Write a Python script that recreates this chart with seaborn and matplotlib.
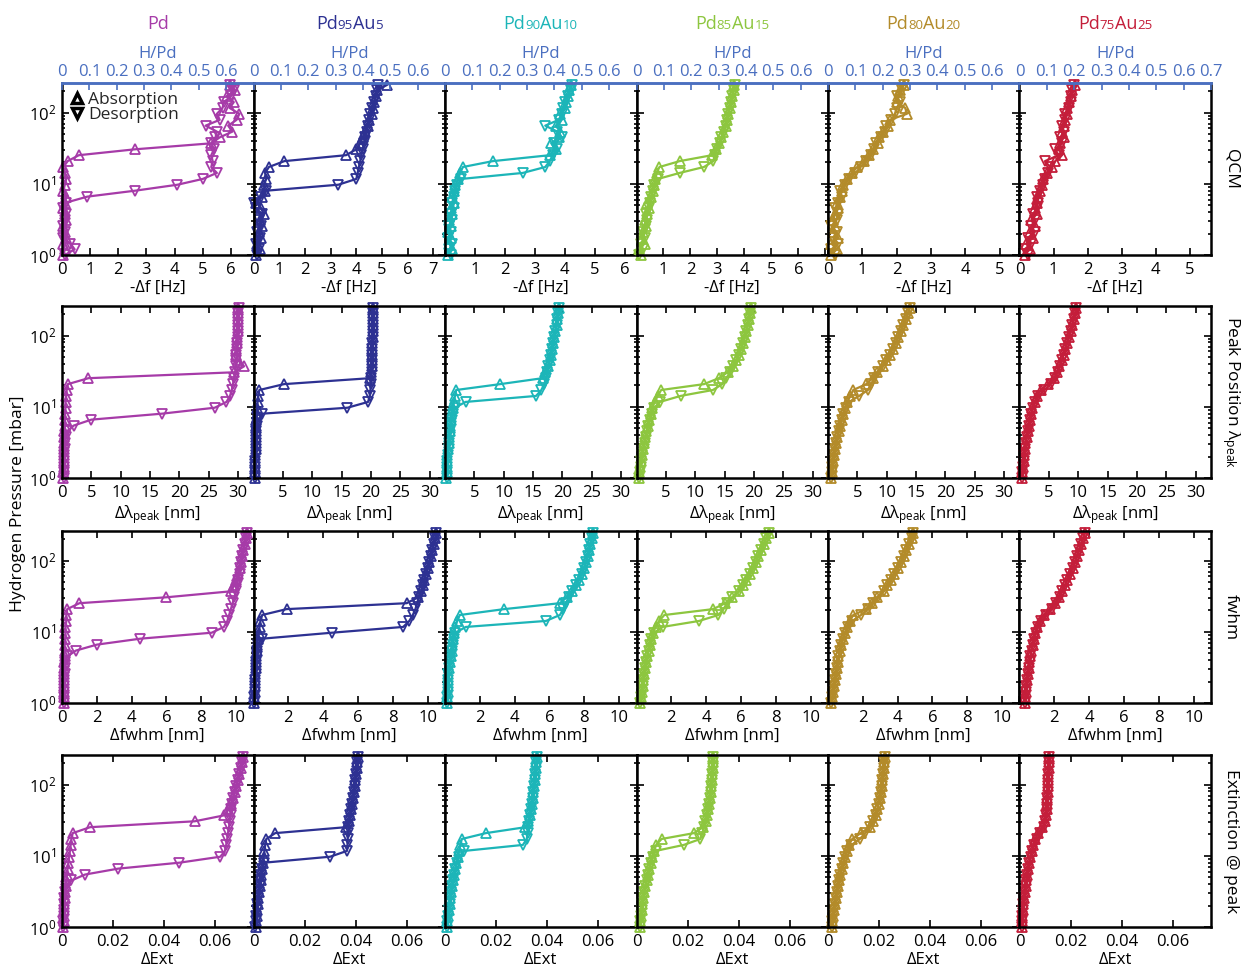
import re
import numpy as np
import matplotlib
matplotlib.use("Agg")
import matplotlib.pyplot as plt
import matplotlib.transforms as mtransforms
from matplotlib.lines import Line2D
from matplotlib.ticker import LogLocator, NullFormatter, NullLocator
from matplotlib.offsetbox import TextArea, HPacker, AnnotationBbox
import seaborn as sns

# ---------------------------------------------------------------- data
# hydrogen pressure steps [mbar], ascending (desorption runs through them in reverse)
PRESSURE = [1.0, 1.2, 1.45, 1.75, 2.1, 2.55, 3.1, 3.75, 4.5, 5.45,
            6.6, 8.0, 9.7, 11.7, 14.2, 17.2, 20.8, 25.2, 30.5, 37.0,
            44.8, 54.0, 65.5, 79.0, 96.0, 116.0, 140.0, 170.0, 205.0, 245.0]

ALLOYS = ["Pd", "Pd95Au5", "Pd90Au10", "Pd85Au15", "Pd80Au20", "Pd75Au25"]
COLORS = ["#A63BA8", "#2D3192", "#1CB5B8", "#8DC63F", "#B38B2A", "#C41E3A"]

# QCM frequency shift -Δf [Hz]
qcm_pd_abs = [0.05, 0.1, 0.05, 0.15, 0.1, 0.05, 0.15, 0.1, 0.05, 0.1,
              0.15, 0.05, 0.1, 0.15, 0.1, 0.05, 0.2, 0.6, 2.6, 5.3,
              5.6, 6.05, 5.9, 6.2, 6.3, 5.95, 6.1, 5.85, 6.15, 5.95]
qcm_pd_des = [0.1, 0.45, 0.3, 0.05, 0.1, 0.05, 0.1, 0.15, 0.05, 0.15,
              0.9, 2.6, 4.1, 5.0, 5.5, 5.3, 5.35, 5.3, 5.4, 5.3,
              5.45, 5.5, 5.1, 5.6, 5.5, 5.7, 5.75, 6.0, 6.1, 5.95]
qcm_pd95_abs = [0.1, 0.25, 0.15, 0.3, 0.2, 0.35, 0.25, 0.4, 0.3, 0.1,
                0.35, 0.45, 0.4, 0.5, 0.45, 0.6, 1.2, 3.6, 4.0, 4.15,
                4.25, 4.35, 4.45, 4.5, 4.6, 4.65, 4.7, 4.75, 4.8, 5.2]
qcm_pd95_des = [0.15, 0.2, 0.1, 0.25, 0.15, 0.3, 0.2, 0.35, 0.1, 0.0,
                0.3, 0.5, 3.3, 4.0, 4.05, 4.1, 4.15, 4.2, 4.25, 4.3,
                4.35, 4.4, 4.45, 4.5, 4.55, 4.6, 4.7, 4.75, 4.8, 4.85]
qcm_pd90_abs = [0.1, 0.25, 0.15, 0.2, 0.1, 0.2, 0.15, 0.25, 0.2, 0.3,
                0.25, 0.3, 0.35, 0.45, 0.5, 0.6, 1.6, 3.5, 3.7, 3.55,
                3.8, 3.85, 3.7, 3.9, 3.85, 4.0, 4.05, 4.1, 4.15, 4.2]
qcm_pd90_des = [0.2, 0.15, 0.25, 0.1, 0.2, 0.15, 0.25, 0.2, 0.3, 0.25,
                0.3, 0.35, 0.4, 0.55, 2.6, 3.35, 3.5, 3.6, 3.75, 3.65,
                3.9, 3.75, 3.35, 3.8, 3.9, 3.95, 4.0, 4.1, 4.2, 4.25]
qcm_pd85_abs = [0.15, 0.1, 0.3, 0.2, 0.25, 0.35, 0.3, 0.4, 0.45, 0.4,
                0.55, 0.6, 0.65, 0.7, 0.75, 0.85, 1.6, 2.8, 2.95, 3.05,
                3.15, 3.2, 3.3, 3.35, 3.4, 3.45, 3.5, 3.55, 3.6, 3.63]
qcm_pd85_des = [0.1, 0.25, 0.15, 0.3, 0.25, 0.35, 0.4, 0.35, 0.45, 0.5,
                0.55, 0.6, 0.65, 0.8, 1.6, 2.5, 2.85, 2.9, 3.0, 3.1,
                3.15, 3.25, 3.3, 3.35, 3.4, 3.45, 3.5, 3.55, 3.6, 3.65]
qcm_pd80_abs = [0.1, 0.25, 0.1, 0.3, 0.15, 0.2, 0.15, 0.2, 0.3, 0.25,
                0.35, 0.4, 0.45, 0.55, 0.7, 0.85, 1.05, 1.2, 1.3, 1.45,
                1.5, 1.6, 1.75, 1.8, 2.3, 2.25, 2.0, 2.05, 2.1, 2.2]
qcm_pd80_des = [0.2, 0.1, 0.3, 0.15, 0.25, 0.1, 0.25, 0.3, 0.2, 0.3,
                0.4, 0.35, 0.5, 0.6, 0.8, 0.95, 1.1, 1.25, 1.35, 1.4,
                1.55, 1.65, 1.7, 1.85, 1.95, 2.0, 2.1, 2.0, 2.15, 2.2]
qcm_pd75_abs = [0.15, 0.3, 0.2, 0.4, 0.3, 0.45, 0.35, 0.5, 0.45, 0.5,
                0.55, 0.6, 0.65, 0.7, 0.8, 0.95, 1.05, 1.25, 1.15, 1.2,
                1.3, 1.25, 1.3, 1.35, 1.4, 1.4, 1.45, 1.5, 1.55, 1.62]
qcm_pd75_des = [0.25, 0.15, 0.35, 0.25, 0.45, 0.35, 0.45, 0.4, 0.5, 0.55,
                0.5, 0.6, 0.7, 0.75, 0.85, 0.9, 0.75, 1.15, 1.05, 1.25,
                1.2, 1.3, 1.25, 1.35, 1.35, 1.45, 1.5, 1.5, 1.55, 1.6]

# plasmon peak position shift Δλpeak [nm]
peak_pd_abs = [0.2, 0.2, 0.3, 0.3, 0.3, 0.3, 0.4, 0.4, 0.4, 0.5,
               0.5, 0.5, 0.6, 0.6, 0.7, 0.8, 1.0, 4.5, 29.3, 31.0,
               30.0, 29.6, 29.7, 29.8, 29.8, 29.9, 29.9, 30.0, 30.0, 30.0]
peak_pd_des = [0.3, 0.3, 0.3, 0.4, 0.4, 0.5, 0.5, 0.6, 0.8, 2.0,
               5.0, 17.0, 26.0, 28.0, 28.6, 28.9, 29.1, 29.3, 29.5, 29.6,
               29.7, 29.7, 29.8, 29.8, 29.9, 29.9, 30.0, 30.0, 30.0, 30.1]
peak_pd95_abs = [0.3, 0.3, 0.3, 0.3, 0.3, 0.4, 0.4, 0.4, 0.4, 0.5,
                 0.5, 0.6, 0.6, 0.7, 0.8, 1.0, 5.2, 19.8, 20.0, 20.1,
                 20.1, 20.2, 20.2, 20.2, 20.3, 20.3, 20.3, 20.3, 20.3, 20.3]
peak_pd95_des = [0.3, 0.3, 0.3, 0.3, 0.4, 0.4, 0.4, 0.5, 0.5, 0.6,
                 0.8, 1.5, 16.0, 19.5, 19.8, 19.9, 20.0, 20.0, 20.1, 20.1,
                 20.2, 20.2, 20.2, 20.2, 20.3, 20.3, 20.3, 20.3, 20.3, 20.3]
peak_pd90_abs = [0.2, 0.3, 0.3, 0.4, 0.4, 0.5, 0.6, 0.7, 0.8, 0.9,
                 1.0, 1.1, 1.3, 1.5, 1.7, 1.9, 9.4, 16.6, 17.0, 17.5,
                 17.8, 18.0, 18.2, 18.4, 18.6, 18.8, 19.0, 19.1, 19.3, 19.4]
peak_pd90_des = [0.3, 0.3, 0.4, 0.4, 0.5, 0.6, 0.7, 0.8, 0.9, 1.0,
                 1.2, 1.4, 1.7, 3.5, 15.5, 16.4, 16.9, 17.2, 17.4, 17.6,
                 17.8, 18.0, 18.2, 18.4, 18.6, 18.8, 19.0, 19.1, 19.3, 19.4]
peak_pd85_abs = [0.4, 0.5, 0.6, 0.8, 0.9, 1.1, 1.3, 1.5, 1.7, 1.9,
                 2.1, 2.4, 2.7, 3.1, 3.6, 4.2, 11.5, 14.0, 15.5, 16.4,
                 17.0, 17.4, 17.8, 18.1, 18.4, 18.7, 18.9, 19.1, 19.3, 19.5]
peak_pd85_des = [0.5, 0.6, 0.7, 0.8, 1.0, 1.2, 1.4, 1.6, 1.8, 2.0,
                 2.3, 2.6, 3.0, 4.0, 7.5, 13.0, 14.6, 15.3, 15.9, 16.5,
                 17.0, 17.4, 17.8, 18.1, 18.4, 18.7, 18.9, 19.1, 19.3, 19.5]
peak_pd80_abs = [0.5, 0.6, 0.7, 0.9, 1.0, 1.2, 1.4, 1.6, 1.8, 2.1,
                 2.3, 2.6, 2.9, 3.3, 3.8, 4.3, 6.5, 7.6, 8.3, 9.3,
                 9.9, 10.5, 11.0, 11.5, 12.0, 12.4, 12.8, 13.2, 13.6, 13.9]
peak_pd80_des = [0.5, 0.6, 0.7, 0.8, 1.0, 1.2, 1.4, 1.6, 1.8, 2.0,
                 2.3, 2.6, 3.0, 3.6, 5.3, 6.8, 7.3, 7.9, 8.5, 9.3,
                 9.9, 10.5, 11.0, 11.5, 12.0, 12.4, 12.8, 13.2, 13.6, 13.9]
peak_pd75_abs = [0.4, 0.5, 0.6, 0.7, 0.8, 0.9, 1.0, 1.2, 1.4, 1.6,
                 1.8, 2.0, 2.2, 2.6, 3.0, 3.6, 4.8, 5.9, 6.4, 6.8,
                 7.2, 7.5, 7.8, 8.1, 8.4, 8.7, 9.0, 9.2, 9.5, 9.7]
peak_pd75_des = [0.4, 0.5, 0.6, 0.7, 0.8, 0.9, 1.1, 1.2, 1.4, 1.6,
                 1.8, 2.0, 2.3, 2.7, 3.2, 4.2, 5.3, 6.0, 6.5, 6.9,
                 7.2, 7.5, 7.8, 8.1, 8.4, 8.7, 9.0, 9.2, 9.5, 9.7]

# peak width change Δfwhm [nm]
fwhm_pd_abs = [0.1, 0.1, 0.1, 0.1, 0.1, 0.1, 0.1, 0.1, 0.15, 0.15,
               0.15, 0.2, 0.2, 0.2, 0.25, 0.25, 0.3, 1.0, 6.0, 9.7,
               9.9, 10.0, 10.1, 10.2, 10.3, 10.35, 10.4, 10.5, 10.55, 10.6]
fwhm_pd_des = [0.1, 0.1, 0.1, 0.1, 0.1, 0.15, 0.15, 0.2, 0.3, 0.8,
               2.0, 4.5, 8.6, 9.3, 9.5, 9.6, 9.7, 9.8, 9.9, 10.0,
               10.05, 10.1, 10.2, 10.25, 10.3, 10.35, 10.4, 10.5, 10.55, 10.6]
fwhm_pd95_abs = [0.05, 0.05, 0.1, 0.1, 0.1, 0.1, 0.15, 0.15, 0.15, 0.2,
                 0.2, 0.25, 0.3, 0.35, 0.4, 0.5, 1.9, 8.8, 9.45, 9.65,
                 9.75, 9.8, 9.9, 10.0, 10.1, 10.2, 10.25, 10.35, 10.45, 10.5]
fwhm_pd95_des = [0.05, 0.05, 0.1, 0.1, 0.1, 0.15, 0.15, 0.15, 0.2, 0.2,
                 0.25, 0.5, 4.5, 8.6, 8.95, 9.15, 9.3, 9.4, 9.5, 9.65,
                 9.75, 9.8, 9.9, 10.0, 10.1, 10.2, 10.25, 10.35, 10.45, 10.5]
fwhm_pd90_abs = [0.1, 0.1, 0.15, 0.15, 0.2, 0.2, 0.25, 0.3, 0.35, 0.4,
                 0.4, 0.45, 0.5, 0.6, 0.7, 0.85, 3.4, 6.6, 7.0, 7.3,
                 7.5, 7.7, 7.85, 8.0, 8.1, 8.2, 8.3, 8.35, 8.45, 8.5]
fwhm_pd90_des = [0.1, 0.1, 0.15, 0.15, 0.2, 0.2, 0.25, 0.3, 0.35, 0.4,
                 0.45, 0.5, 0.6, 1.2, 5.8, 6.6, 6.8, 6.95, 7.1, 7.3,
                 7.5, 7.7, 7.85, 8.0, 8.1, 8.2, 8.3, 8.35, 8.45, 8.5]
fwhm_pd85_abs = [0.2, 0.25, 0.3, 0.35, 0.4, 0.45, 0.5, 0.55, 0.6, 0.7,
                 0.75, 0.85, 0.95, 1.1, 1.3, 1.6, 4.4, 5.1, 5.5, 5.9,
                 6.1, 6.3, 6.5, 6.7, 6.85, 7.0, 7.15, 7.3, 7.45, 7.6]
fwhm_pd85_des = [0.2, 0.25, 0.3, 0.35, 0.4, 0.45, 0.5, 0.55, 0.6, 0.7,
                 0.75, 0.85, 1.0, 1.5, 3.6, 4.7, 5.0, 5.2, 5.5, 5.9,
                 6.1, 6.3, 6.5, 6.7, 6.85, 7.0, 7.15, 7.3, 7.45, 7.6]
fwhm_pd80_abs = [0.2, 0.25, 0.3, 0.35, 0.4, 0.45, 0.5, 0.55, 0.6, 0.7,
                 0.75, 0.85, 1.0, 1.1, 1.25, 1.45, 2.2, 2.5, 2.8, 3.2,
                 3.4, 3.6, 3.8, 4.0, 4.2, 4.35, 4.5, 4.65, 4.8, 4.9]
fwhm_pd80_des = [0.2, 0.25, 0.3, 0.35, 0.4, 0.45, 0.5, 0.55, 0.6, 0.7,
                 0.75, 0.85, 1.0, 1.15, 1.4, 1.9, 2.3, 2.6, 2.9, 3.2,
                 3.4, 3.6, 3.8, 4.0, 4.2, 4.35, 4.5, 4.65, 4.8, 4.9]
fwhm_pd75_abs = [0.3, 0.33, 0.37, 0.4, 0.43, 0.47, 0.52, 0.57, 0.62, 0.68,
                 0.75, 0.82, 0.9, 1.0, 1.15, 1.4, 1.75, 2.05, 2.25, 2.45,
                 2.6, 2.75, 2.9, 3.05, 3.2, 3.3, 3.42, 3.55, 3.65, 3.76]
fwhm_pd75_des = [0.3, 0.33, 0.37, 0.4, 0.44, 0.48, 0.53, 0.58, 0.63, 0.7,
                 0.77, 0.84, 0.93, 1.05, 1.25, 1.55, 1.85, 2.1, 2.3, 2.45,
                 2.6, 2.75, 2.9, 3.05, 3.2, 3.3, 3.42, 3.55, 3.65, 3.76]

# extinction change at the peak ΔExt
ext_pd_abs = [0.0005, 0.0006, 0.0007, 0.0008, 0.0009, 0.001, 0.0012, 0.0014, 0.0016, 0.0019,
              0.0022, 0.0025, 0.0028, 0.0031, 0.0034, 0.0037, 0.0042, 0.011, 0.052, 0.0636,
              0.0652, 0.0662, 0.067, 0.0676, 0.0682, 0.0689, 0.0695, 0.07, 0.0705, 0.071]
ext_pd_des = [0.0004, 0.0005, 0.0006, 0.0007, 0.0008, 0.0009, 0.0011, 0.0014, 0.0037, 0.009,
              0.022, 0.046, 0.062, 0.0638, 0.0643, 0.0647, 0.065, 0.0654, 0.0657, 0.066,
              0.0663, 0.0667, 0.0671, 0.0676, 0.0682, 0.0689, 0.0695, 0.07, 0.0705, 0.071]
ext_pd95_abs = [0.0008, 0.001, 0.0012, 0.0014, 0.0016, 0.0019, 0.0022, 0.0025, 0.0028, 0.0031,
                0.0034, 0.0037, 0.004, 0.0043, 0.0046, 0.005, 0.0085, 0.0362, 0.0374, 0.0379,
                0.0383, 0.0386, 0.039, 0.0393, 0.0396, 0.0399, 0.0402, 0.0405, 0.0407, 0.0409]
ext_pd95_des = [0.0007, 0.0009, 0.0011, 0.0013, 0.0015, 0.0018, 0.0021, 0.0024, 0.0027, 0.003,
                0.0034, 0.0042, 0.03, 0.0366, 0.0368, 0.0369, 0.037, 0.0372, 0.0374, 0.0379,
                0.0383, 0.0386, 0.039, 0.0393, 0.0396, 0.0399, 0.0402, 0.0405, 0.0407, 0.0409]
ext_pd90_abs = [0.0007, 0.0009, 0.0012, 0.0015, 0.0018, 0.0021, 0.0025, 0.0029, 0.0033, 0.0037,
                0.0041, 0.0045, 0.005, 0.0055, 0.006, 0.0066, 0.016, 0.0315, 0.0327, 0.0334,
                0.0337, 0.034, 0.0343, 0.0346, 0.0349, 0.0351, 0.0354, 0.0356, 0.0358, 0.036]
ext_pd90_des = [0.0007, 0.0009, 0.0012, 0.0015, 0.0018, 0.0021, 0.0025, 0.0029, 0.0033, 0.0037,
                0.0041, 0.0046, 0.0054, 0.0075, 0.0305, 0.032, 0.0324, 0.0327, 0.033, 0.0334,
                0.0337, 0.034, 0.0343, 0.0346, 0.0349, 0.0351, 0.0354, 0.0356, 0.0358, 0.036]
ext_pd85_abs = [0.0012, 0.0014, 0.0017, 0.002, 0.0023, 0.0027, 0.0031, 0.0035, 0.004, 0.0045,
                0.005, 0.0056, 0.0062, 0.0069, 0.0077, 0.0098, 0.0225, 0.026, 0.0271, 0.0277,
                0.0281, 0.0284, 0.0287, 0.029, 0.0292, 0.0294, 0.0296, 0.0298, 0.0299, 0.03]
ext_pd85_des = [0.0012, 0.0014, 0.0017, 0.002, 0.0023, 0.0027, 0.0031, 0.0035, 0.004, 0.0045,
                0.005, 0.0056, 0.0063, 0.0075, 0.0185, 0.025, 0.0258, 0.0264, 0.027, 0.0277,
                0.0281, 0.0284, 0.0287, 0.029, 0.0292, 0.0294, 0.0296, 0.0298, 0.0299, 0.03]
ext_pd80_abs = [0.0015, 0.0017, 0.002, 0.0023, 0.0026, 0.003, 0.0034, 0.0038, 0.0043, 0.0048,
                0.0054, 0.006, 0.0066, 0.0073, 0.0081, 0.0095, 0.0128, 0.0163, 0.0177, 0.0187,
                0.0193, 0.0198, 0.0202, 0.0206, 0.021, 0.0213, 0.0216, 0.0218, 0.022, 0.0222]
ext_pd80_des = [0.0015, 0.0017, 0.002, 0.0023, 0.0026, 0.003, 0.0034, 0.0038, 0.0043, 0.0048,
                0.0054, 0.006, 0.0067, 0.0076, 0.0092, 0.0125, 0.0145, 0.0165, 0.0178, 0.0187,
                0.0193, 0.0198, 0.0202, 0.0206, 0.021, 0.0213, 0.0216, 0.0218, 0.022, 0.0222]
ext_pd75_abs = [0.0008, 0.0009, 0.0011, 0.0013, 0.0015, 0.0018, 0.0021, 0.0024, 0.0027, 0.003,
                0.0034, 0.0038, 0.0043, 0.0048, 0.0054, 0.0062, 0.0072, 0.009, 0.0099, 0.0104,
                0.0106, 0.0108, 0.0109, 0.011, 0.0111, 0.0112, 0.0113, 0.0114, 0.0116, 0.0117]
ext_pd75_des = [0.0008, 0.0009, 0.0011, 0.0013, 0.0015, 0.0018, 0.0021, 0.0024, 0.0027, 0.003,
                0.0034, 0.0039, 0.0044, 0.005, 0.0058, 0.0068, 0.0082, 0.0094, 0.0101, 0.0104,
                0.0106, 0.0108, 0.0109, 0.011, 0.0111, 0.0112, 0.0113, 0.0114, 0.0116, 0.0117]

# axis texts and ticks
ROW_NAMES = ["QCM", r"Peak Position λ$_{\mathregular{peak}}$", "fwhm", "Extinction @ peak"]
ROW_XLABELS = ["-Δf [Hz]", r"Δλ$_{\mathregular{peak}}$ [nm]", "Δfwhm [nm]", "ΔExt"]
YLABEL = "Hydrogen Pressure [mbar]"
LEGEND_LABELS = ["Absorption", "Desorption"]
HPD_LABEL = "H/Pd"
HPD_TICKS = [0, 0.1, 0.2, 0.3, 0.4, 0.5, 0.6, 0.7]
HPD_TICKLABELS = ["0", "0.1", "0.2", "0.3", "0.4", "0.5", "0.6", "0.7"]

QCM_XMAX = [6.8, 7.45, 6.4, 7.1, 5.58, 5.63]
QCM_TICKS = [[0, 1, 2, 3, 4, 5, 6], [0, 1, 2, 3, 4, 5, 6, 7], [0, 1, 2, 3, 4, 5, 6],
             [0, 1, 2, 3, 4, 5, 6, 7], [0, 1, 2, 3, 4, 5], [0, 1, 2, 3, 4, 5]]
QCM_TICKLABELS = [["0", "1", "2", "3", "4", "5", "6"],
                  ["0", "1", "2", "3", "4", "5", "6", "7"],
                  ["", "1", "2", "3", "4", "5", "6"],
                  ["", "1", "2", "3", "4", "5", "6", ""],
                  ["0", "1", "2", "3", "4", "5"],
                  ["0", "1", "2", "3", "4", "5"]]
PEAK_XMAX = 32.6
PEAK_TICKS = [0, 5, 10, 15, 20, 25, 30]
PEAK_TICKLABELS = ["0", "5", "10", "15", "20", "25", "30"]
FWHM_XMAX = 11.0
FWHM_TICKS = [0, 2, 4, 6, 8, 10]
FWHM_TICKLABELS = ["0", "2", "4", "6", "8", "10"]
EXT_XMAX = 0.075
EXT_TICKS = [0, 0.02, 0.04, 0.06]
EXT_TICKLABELS = ["0", "0.02", "0.04", "0.06"]
PRESSURE_RANGE = (1, 260)

SERIES = [
    [(qcm_pd_abs, qcm_pd_des), (qcm_pd95_abs, qcm_pd95_des), (qcm_pd90_abs, qcm_pd90_des),
     (qcm_pd85_abs, qcm_pd85_des), (qcm_pd80_abs, qcm_pd80_des), (qcm_pd75_abs, qcm_pd75_des)],
    [(peak_pd_abs, peak_pd_des), (peak_pd95_abs, peak_pd95_des), (peak_pd90_abs, peak_pd90_des),
     (peak_pd85_abs, peak_pd85_des), (peak_pd80_abs, peak_pd80_des), (peak_pd75_abs, peak_pd75_des)],
    [(fwhm_pd_abs, fwhm_pd_des), (fwhm_pd95_abs, fwhm_pd95_des), (fwhm_pd90_abs, fwhm_pd90_des),
     (fwhm_pd85_abs, fwhm_pd85_des), (fwhm_pd80_abs, fwhm_pd80_des), (fwhm_pd75_abs, fwhm_pd75_des)],
    [(ext_pd_abs, ext_pd_des), (ext_pd95_abs, ext_pd95_des), (ext_pd90_abs, ext_pd90_des),
     (ext_pd85_abs, ext_pd85_des), (ext_pd80_abs, ext_pd80_des), (ext_pd75_abs, ext_pd75_des)],
]

# ---------------------------------------------------------------- style
sns.set_theme(style="white")
plt.rcParams["font.family"] = ["Open Sans", "DejaVu Sans"]
plt.rcParams["mathtext.default"] = "regular"
plt.rcParams["axes.unicode_minus"] = False

BLUE = "#4A6FC0"
FS = 12
W, H = 1241, 968
COL_X = [62, 253.5, 445, 636.5, 828, 1019.5]
ROW_Y = [83, 306, 531, 755]
PW, PH = 191.5, 172

fig = plt.figure(figsize=(W / 100, H / 100), dpi=100, facecolor="white")


def panel_rect(px, py):
    return [px / W, 1 - (py + PH) / H, PW / W, PH / H]


def draw_branch(ax, xs, marker, color):
    sns.lineplot(x=xs, y=PRESSURE, sort=False, estimator=None, errorbar=None, ax=ax,
                 color=color, marker=marker, markersize=7.5, markerfacecolor="none",
                 markeredgecolor=color, markeredgewidth=1.3, linewidth=1.6,
                 clip_on=False, legend=False)


for r in range(4):
    for c in range(6):
        ax = fig.add_axes(panel_rect(COL_X[c], ROW_Y[r]))
        ax.set_facecolor("white")
        color = COLORS[c]
        abs_x, des_x = SERIES[r][c]
        draw_branch(ax, abs_x, "^", color)
        draw_branch(ax, des_x, "v", color)

        ax.set_yscale("log")
        ax.set_ylim(*PRESSURE_RANGE)
        ax.yaxis.set_major_locator(LogLocator(base=10, numticks=10))
        ax.yaxis.set_minor_locator(LogLocator(base=10, subs=np.arange(2, 10), numticks=30))
        ax.yaxis.set_minor_formatter(NullFormatter())
        ax.xaxis.set_minor_locator(NullLocator())

        if r == 0:
            ax.set_xlim(0, QCM_XMAX[c])
            ax.set_xticks(QCM_TICKS[c])
            ax.set_xticklabels(QCM_TICKLABELS[c])
        elif r == 1:
            ax.set_xlim(0, PEAK_XMAX)
            ax.set_xticks(PEAK_TICKS)
            ax.set_xticklabels(PEAK_TICKLABELS if c == 0 else [""] + PEAK_TICKLABELS[1:])
        elif r == 2:
            ax.set_xlim(0, FWHM_XMAX)
            ax.set_xticks(FWHM_TICKS)
            ax.set_xticklabels(FWHM_TICKLABELS if c == 0 else [""] + FWHM_TICKLABELS[1:])
        else:
            ax.set_xlim(0, EXT_XMAX)
            ax.set_xticks(EXT_TICKS)
            ax.set_xticklabels(EXT_TICKLABELS)

        ax.tick_params(which="both", direction="in", color="black", width=1.2,
                       left=True, right=True, bottom=True, top=(r > 0),
                       labelleft=(c == 0), labelsize=FS, labelcolor="black")
        ax.tick_params(axis="x", pad=5)
        ax.tick_params(axis="y", pad=4)
        ax.tick_params(which="major", length=5)
        ax.tick_params(which="minor", length=2.5)
        ax.set_xlabel(ROW_XLABELS[r], fontsize=FS, labelpad=1.5, color="black")
        ax.set_ylabel("")
        for sp in ax.spines.values():
            sp.set_visible(True)
            sp.set_color("black")
            sp.set_linewidth(1.8)

        if r == 0:
            # hydrogen-to-palladium ratio on the top axis
            ax.spines["top"].set_color(BLUE)
            ax2 = ax.twiny()
            ax2.set_xlim(0, 0.7)
            ax2.set_xticks(HPD_TICKS)
            ax2.set_xticklabels(HPD_TICKLABELS if c == 5 else HPD_TICKLABELS[:-1] + [""])
            ax2.xaxis.set_minor_locator(NullLocator())
            ax2.tick_params(axis="x", which="both", direction="in", colors=BLUE, length=5,
                            width=1.2, labelsize=FS, pad=2.5, top=True, bottom=False)
            ax2.set_xlabel(HPD_LABEL, color=BLUE, fontsize=FS, labelpad=4)
            for name, sp in ax2.spines.items():
                sp.set_visible(name == "top")
            ax2.spines["top"].set_color(BLUE)
            ax2.spines["top"].set_linewidth(1.8)

            # alloy title with small composition numbers
            parts = re.findall(r"[A-Za-z]+|\d+", ALLOYS[c])
            boxes = [TextArea(p, textprops=dict(color=color, fontsize=(9.5 if p.isdigit() else 13)))
                     for p in parts]
            pack = HPacker(children=boxes, align="baseline", pad=0, sep=0)
            trans = mtransforms.blended_transform_factory(ax.transAxes, fig.transFigure)
            ab = AnnotationBbox(pack, (0.5, 1 - 24 / H), xycoords=trans, frameon=False,
                                box_alignment=(0.5, 0.5), pad=0)
            ab.set_clip_on(False)
            ax2.add_artist(ab)

            if c == 0:
                handles = [Line2D([], [], linestyle="none", marker=m, markersize=7,
                                  markerfacecolor="white", markeredgecolor="black",
                                  markeredgewidth=2.5) for m in ("^", "v")]
                ax.legend(handles, LEGEND_LABELS, loc="upper left", frameon=False,
                          fontsize=12.5, handlelength=0.7, handletextpad=0.3,
                          borderpad=0.2, borderaxespad=0.3, labelspacing=-0.05)

    fig.text(1231 / W, 1 - (ROW_Y[r] + PH / 2) / H, ROW_NAMES[r], rotation=270,
             ha="center", va="center", fontsize=12.5, color="black")

fig.text(18 / W, 1 - 504 / H, YLABEL, rotation=90,
         ha="center", va="center", fontsize=12.6, color="black")

fig.savefig("out.png", dpi=100, facecolor="white")
